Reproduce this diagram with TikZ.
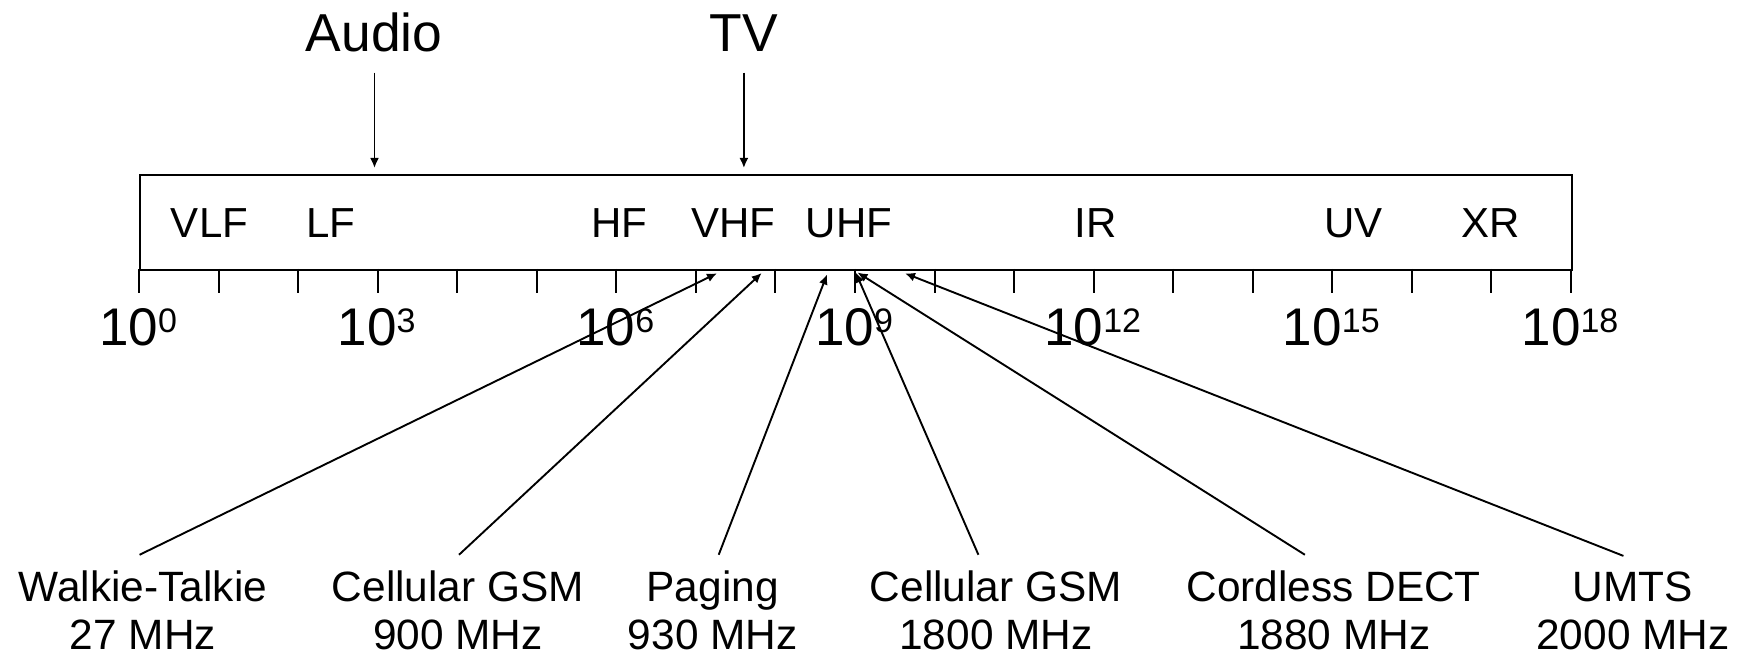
\documentclass[tikz,border=0pt]{standalone}
\usepackage{fontspec}
\setmainfont{Liberation Sans}
\usetikzlibrary{arrows.meta}
\begin{document}
\begin{tikzpicture}[x=0.5pt,y=-0.5pt,
  band/.style={font=\fontsize{21pt}{25pt}\selectfont, anchor=base, inner sep=0pt},
  toplabel/.style={font=\fontsize{26.7pt}{32pt}\selectfont, anchor=base, inner sep=0pt},
  app/.style={font=\fontsize{21.2pt}{24.25pt}\selectfont, align=center, anchor=base, inner sep=0pt, outer ysep=8pt},
  decade/.style={font=\fontsize{26.5pt}{30pt}\selectfont, anchor=base, inner sep=0pt},
  arr/.style={-{Latex[length=5pt,width=4.5pt]}, line width=0.95pt},
  tickmark/.style={line width=1pt},
  specbox/.style={draw, line width=1pt, inner sep=0pt, minimum width=716pt, minimum height=47.5pt, anchor=north west}
]
\useasboundingbox (0,0) rectangle (1745,656);

% spectrum box
\node[specbox] (spec) at (139,174) {};

% band labels
\node[band] (vlf) at (209.5,238) {VLF};
\node[band] (lf)  at (331,238) {LF};
\node[band] (hf)  at (619,238) {HF};
\node[band] (vhf) at (733,238) {VHF};
\node[band] (uhf) at (849,238) {UHF};
\node[band] (ir)  at (1095.5,238) {IR};
\node[band] (uv)  at (1353.5,238) {UV};
\node[band] (xr)  at (1490.5,238) {XR};

% ticks
\foreach \i in {0,...,18}{
  \draw[tickmark] (139+\i*79.556,269) -- ++(0,24);
}
% decade labels
\foreach \e [count=\k from 0] in {0,3,6,9,12,15,18}{
  \node[decade] (dec\k) at (139+\e*79.556-1,346)
    {10\raisebox{6.8pt}{\fontsize{17pt}{20pt}\selectfont\e}};
}

% top labels and arrows
\node[toplabel] (audio) at (374,52) {Audio};
\node[toplabel] (tv) at (743.7,52) {TV};
\coordinate (audiotip) at (374.5,168);
\coordinate (tvtip) at (743.9,168);
\draw[arr] (audiotip |- 0,72.7) -- (audiotip);
\draw[arr] (tvtip |- 0,72.7) -- (tvtip);

% application labels (base = last line)
\node[app] (wt)   at (143,650) {Walkie-Talkie\\27 MHz};
\node[app] (gsm9) at (458,650) {Cellular GSM\\900 MHz};
\node[app] (pag)  at (712.7,650) {Paging\\930 MHz};
\node[app] (gsm18) at (996,650) {Cellular GSM\\1800 MHz};
\node[app] (dect) at (1333.7,650) {Cordless DECT\\1880 MHz};
\node[app] (umts) at (1633,650) {UMTS\\2000 MHz};

% arrow heads on spectrum
\coordinate (hwt)   at (717,273.3);
\coordinate (hgsm9) at (761.7,273);
\coordinate (hpag)  at (827,274.5);
\coordinate (hgsm18) at (855.7,272.5);
\coordinate (hdect) at (857.5,272.5);
\coordinate (humts) at (905,273.3);

\draw[arr] ([xshift=-1.7pt]wt.north) -- (hwt);
\draw[arr] ([xshift=0.5pt]gsm9.north) -- (hgsm9);
\draw[arr] ([xshift=3pt]pag.north) -- (hpag);
\draw[arr] ([xshift=-8.8pt]gsm18.north) -- (hgsm18);
\draw[arr] ([xshift=-14.4pt]dect.north) -- (hdect);
\draw[arr] ([xshift=-4.8pt]umts.north) -- (humts);
\end{tikzpicture}
\end{document}
